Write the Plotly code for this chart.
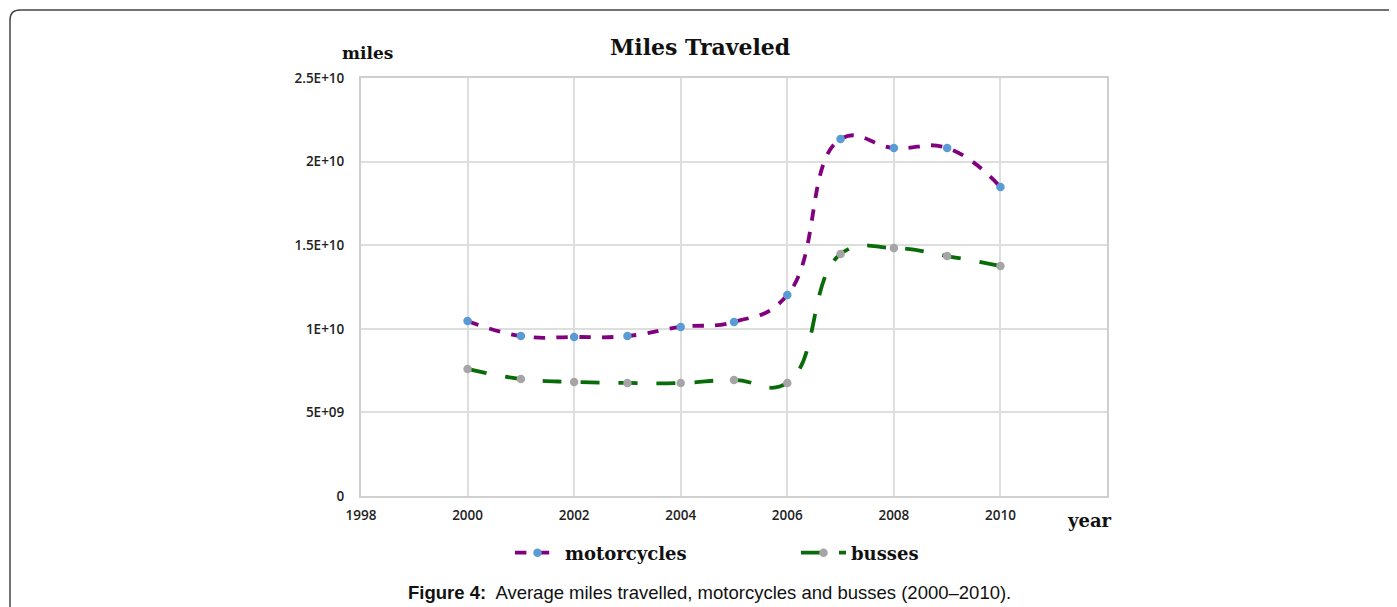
import plotly.graph_objects as go

years = [2000, 2001, 2002, 2003, 2004, 2005, 2006, 2007, 2008, 2009, 2010]
motorcycles = [1.047e10, 0.957e10, 0.951e10, 0.957e10, 1.011e10, 1.041e10,
               1.202e10, 2.135e10, 2.081e10, 2.081e10, 1.848e10]
busses = [0.760e10, 0.700e10, 0.682e10, 0.676e10, 0.676e10, 0.694e10,
          0.676e10, 1.447e10, 1.483e10, 1.435e10, 1.376e10]

x_ticks = [1998, 2000, 2002, 2004, 2006, 2008, 2010, 2012]
x_labels = ["1998", "2000", "2002", "2004", "2006", "2008", "2010", ""]
y_ticks = [0, 5e9, 1e10, 1.5e10, 2e10, 2.5e10]
y_labels = ["0", "5E+09", "1E+10", "1.5E+10", "2E+10", "2.5E+10"]

PURPLE = "#800080"
GREEN = "#0a6b0a"
BLUE = "#5b9bd5"
GRAY = "#a5a5a5"
SERIF = "DejaVu Serif"
TICK_FONT = dict(family="Open Sans", size=13.5, color="#222", weight=600)

# plot area in pixels of the picture; the page body adds an 8px offset
W, H = 1397, 607
OFF = 8
L, R, T, B = 361, 1107, 78, 496


def px(x):
    return (x - L) / (R - L)


def py(y):
    return (B - y) / (B - T)


def label(text, x, y, font):
    return dict(text=text, xref="paper", yref="paper",
                x=px(x), y=py(y), xanchor="center", yanchor="middle",
                showarrow=False, font=font)


fig = go.Figure()

fig.add_trace(go.Scatter(
    x=years, y=motorcycles, name="motorcycles",
    mode="lines+markers",
    line=dict(color=PURPLE, width=3.8, dash="dash", shape="spline", smoothing=1.3),
    marker=dict(color=BLUE, size=8.5)
))

fig.add_trace(go.Scatter(
    x=years, y=busses, name="busses",
    mode="lines+markers",
    line=dict(color=GREEN, width=3.8, dash="longdash", shape="spline", smoothing=1.3),
    marker=dict(color=GRAY, size=8.5)
))

# rounded border around the figure
rx = 10 / (R - L)
ry = 10 / (B - T)
x0, y0 = px(10), py(10)
x1, y1 = px(1420), py(640)
border = (f"M {x0},{y1} L {x0},{y0 - ry} Q {x0},{y0} {x0 + rx},{y0} "
          f"L {x1},{y0}")

bold_serif = dict(family=SERIF, color="#111", weight="bold")

fig.update_layout(
    width=W, height=H,
    margin=dict(l=L - OFF, r=W - R + OFF, t=T - OFF, b=H - B + OFF),
    template="plotly_white",
    plot_bgcolor="white",
    paper_bgcolor="white",
    showlegend=True,
    xaxis=dict(
        range=[1998, 2012],
        tickvals=x_ticks, ticktext=x_labels,
        tickfont=TICK_FONT,
        showgrid=True, gridcolor="#dedede", gridwidth=1.5,
        showline=True, linecolor="#cfcfcf", linewidth=2, mirror=True,
        zeroline=False, ticks="", ticklabelstandoff=6
    ),
    yaxis=dict(
        range=[0, 2.5e10],
        tickvals=y_ticks, ticktext=y_labels,
        tickfont=TICK_FONT,
        showgrid=True, gridcolor="#dedede", gridwidth=1.5,
        showline=True, linecolor="#cfcfcf", linewidth=2, mirror=True,
        zeroline=False, ticks="", ticklabelstandoff=12
    ),
    legend=dict(
        orientation="h",
        x=px(510), xanchor="left",
        y=py(553), yanchor="middle",
        font=dict(bold_serif, size=18),
        entrywidth=226,
        itemwidth=45,
        bgcolor="rgba(0,0,0,0)"
    ),
    shapes=[dict(
        type="path", xref="paper", yref="paper", path=border,
        line=dict(color="#444", width=1.5)
    )],
    annotations=[
        label("Miles Traveled", 700, 47, dict(bold_serif, size=22)),
        label("miles", 367, 53, dict(bold_serif, size=17)),
        label("year", 1089, 520, dict(bold_serif, size=18)),
        label("<b>Figure 4:</b>  Average miles travelled, motorcycles and busses (2000–2010).",
              709, 592, dict(family="Liberation Sans", size=18.5, color="#111")),
    ]
)

fig.write_html("out.html")
